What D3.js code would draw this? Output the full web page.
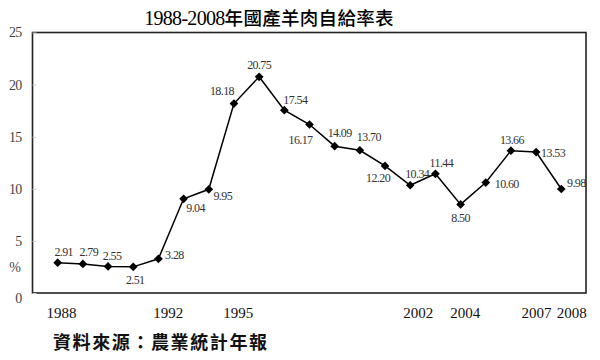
<!DOCTYPE html>
<html>
<head>
<meta charset="utf-8">
<script src="https://cdn.jsdelivr.net/npm/d3@7"></script>
<style>
  html, body { margin: 0; padding: 0; background: #fff; }
  svg { display: block; }
</style>
</head>
<body>
<svg id="chart" width="600" height="360"></svg>
<script>
// ---- data ----
const years = [1988,1989,1990,1991,1992,1993,1994,1995,1996,1997,1998,1999,2000,2001,2002,2003,2004,2005,2006,2007,2008];
const values = [2.91,2.79,2.55,2.51,3.28,9.04,9.95,18.18,20.75,17.54,16.17,14.09,13.70,12.20,10.34,11.44,8.50,10.60,13.66,13.53,9.98];
const valueLabels = ["2.91","2.79","2.55","2.51","3.28","9.04","9.95","18.18","20.75","17.54","16.17","14.09","13.70","12.20","10.34","11.44","8.50","10.60","13.66","13.53","9.98"];
const xTickLabels = ["1988","1992","1995","2002","2004","2007","2008"];
const xTickAt = [1988.13,1992.37,1995.15,2002.3,2004.17,2007.0,2008.4];
const yTicks = [0,5,10,15,20,25];
const titleLatin = "1988-2008";
const titleCJK = "年國產羊肉自給率表";
const sourceText = "資料來源：農業統計年報";

// ---- layout (label offsets relative to each point) ----
const labelOffsets = [
  [6,-11],[6,-12],[4,-11],[2,13],[16,-4],[12,9],[14,6],[-12,-13],[0,-12],[11,-10],
  [-9,15],[5,-13],[9,-13],[-7,12],[7,-11],[6,-11],[0,13],[21,1],[1,-11],[17,1],[15,-6]
];

const svg = d3.select("#chart");
const box = {left: 32.5, right: 586, top: 32.5, bottom: 293};

const x = d3.scaleLinear().domain([1988, 2008]).range([57.7, 561.3]);
const y = d3.scaleLinear().domain([0, 25]).range([box.bottom, box.top]);

const serif = "'Liberation Serif', 'Times New Roman', serif";

// title
const title = svg.append("text")
  .attr("x", 269).attr("y", 25)
  .attr("text-anchor", "middle")
  .attr("fill", "#000");
title.append("tspan")
  .attr("font-family", serif).attr("font-size", 20).attr("letter-spacing", -0.7)
  .text(titleLatin);
title.append("tspan")
  .attr("font-family", "'Noto Sans CJK TC', sans-serif").attr("font-size", 18.5)
  .attr("font-weight", 500).attr("letter-spacing", 0.3)
  .text(titleCJK);

// plot frame
svg.append("rect")
  .attr("x", box.left).attr("y", box.top)
  .attr("width", box.right - box.left).attr("height", box.bottom - box.top)
  .attr("fill", "none").attr("stroke", "#222").attr("stroke-width", 1.6);

// y axis
const yAxis = d3.axisLeft(y).tickValues(yTicks).tickSize(-4).tickPadding(11).tickFormat(d3.format("d"));
const gy = svg.append("g").attr("transform", `translate(${box.left},0)`).call(yAxis);
gy.select(".domain").remove();
gy.selectAll(".tick line").attr("stroke", "#ccc").attr("stroke-width", 1);
gy.selectAll(".tick text")
  .attr("font-family", serif).attr("font-size", 14).attr("fill", "#444")
  .attr("letter-spacing", -0.8)
  .attr("dy", d => d === 0 ? "0.65em" : "0.32em");

// percent sign
svg.append("text")
  .attr("x", 21).attr("y", (y(0) + y(5)) / 2 + 5)
  .attr("text-anchor", "end")
  .attr("font-family", serif).attr("font-size", 14).attr("fill", "#444")
  .text("%");

// x axis labels
const xAxis = d3.axisBottom(x).tickValues(xTickAt).tickSize(0).tickPadding(14)
  .tickFormat((d, i) => xTickLabels[i]);
const gx = svg.append("g").attr("transform", `translate(0,${box.bottom})`).call(xAxis);
gx.select(".domain").remove();
gx.selectAll(".tick text")
  .attr("font-family", serif).attr("font-size", 15).attr("fill", "#111");

// line
const line = d3.line().x((d, i) => x(years[i])).y(d => y(d));
svg.append("path")
  .datum(values)
  .attr("d", line)
  .attr("fill", "none").attr("stroke", "#000").attr("stroke-width", 1.5);

// markers
const sym = d3.symbol().type(d3.symbolSquare).size(38);
svg.selectAll(".marker").data(values).join("path")
  .attr("class", "marker")
  .attr("d", sym)
  .attr("transform", (d, i) => `translate(${x(years[i])},${y(d)}) rotate(45)`)
  .attr("fill", "#000");

// value labels
svg.selectAll(".vlabel").data(values).join("text")
  .attr("class", "vlabel")
  .attr("x", (d, i) => x(years[i]) + labelOffsets[i][0])
  .attr("y", (d, i) => y(d) + labelOffsets[i][1])
  .attr("dy", "0.35em")
  .attr("text-anchor", "middle")
  .attr("font-family", serif).attr("font-size", 12).attr("fill", "#333")
  .attr("letter-spacing", -0.6)
  .text((d, i) => valueLabels[i]);

// source
svg.append("text")
  .attr("x", 53).attr("y", 349)
  .attr("font-family", "'Noto Sans CJK TC', sans-serif")
  .attr("font-size", 18).attr("font-weight", 700)
  .attr("letter-spacing", 1.6)
  .attr("fill", "#111")
  .text(sourceText);
</script>
</body>
</html>
